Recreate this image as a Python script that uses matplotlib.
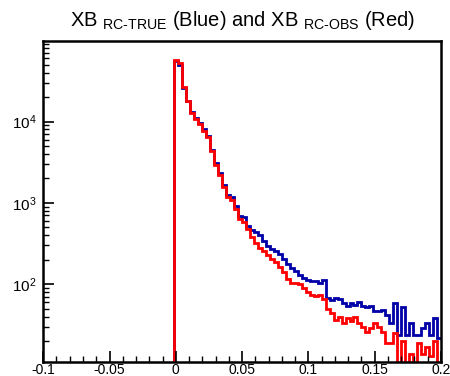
import numpy as np
import matplotlib
matplotlib.use("Agg")
import matplotlib.pyplot as plt
from matplotlib.ticker import LogLocator, MultipleLocator, NullFormatter

plt.rcParams['font.family'] = ['Liberation Sans', 'DejaVu Sans']
plt.rcParams['mathtext.fontset'] = 'custom'
plt.rcParams['mathtext.rm'] = 'Liberation Sans'
plt.rcParams['mathtext.it'] = 'Liberation Sans'
plt.rcParams['mathtext.bf'] = 'Liberation Sans:bold'

# histogram binning: 100 bins from -0.1 to 0.2
x_min, x_max, n_bins = -0.1, 0.2, 100
n_empty = 33  # bins below the threshold are empty

# XB RC-TRUE (blue) counts for the non-empty bins
true_counts = [56000, 50000, 26000, 18000, 13000, 11000, 9600, 8000, 6700, 4500,
               3100, 2300, 1680, 1250, 1180, 920, 695, 670, 522, 470,
               436, 398, 340, 295, 269, 254, 233, 202, 175, 160,
               144, 131, 119, 114, 108, 108, 103, 114, 68, 64,
               67, 65, 58, 54, 59, 56, 61, 54, 53, 54,
               47, 47, 48, 42, 33, 58, 24, 53, 24, 33,
               24, 24, 29, 33, 24, 38, 22]
# XB RC-OBS (red) counts for the non-empty bins
obs_counts = [58000, 53000, 26600, 18000, 12750, 10700, 9300, 7700, 6400, 4300,
              2900, 2180, 1570, 1180, 1070, 840, 630, 580, 475, 380,
              325, 282, 256, 226, 205, 186, 164, 140, 116, 104,
              104, 101, 90, 79, 74, 71, 74, 65, 50, 44,
              36, 40, 33, 38, 35, 40, 33, 30, 26, 29,
              33, 30, 26, 19, 19, 25, 0, 20, 0, 14,
              0, 19, 14, 17, 13, 20, 0]

edges = np.linspace(x_min, x_max, n_bins + 1)
blue = np.array([0] * n_empty + true_counts, dtype=float)
red = np.array([0] * n_empty + obs_counts, dtype=float)
floor = 1e-2
blue_p = np.where(blue > 0, blue, floor)
red_p = np.where(red > 0, red, floor)

fig = plt.figure(figsize=(4.5, 3.76), dpi=100)
ax = fig.add_axes([0.096, 0.037, 0.884, 0.854])

ax.stairs(blue_p, edges, color='#0000a8', lw=2.0, baseline=None)
ax.stairs(red_p, edges, color='#ff0000', lw=2.0, baseline=None)

ax.set_yscale('log')
ax.set_xlim(x_min, x_max)
ax.set_ylim(11, 9.8e4)

ax.xaxis.set_major_locator(MultipleLocator(0.05))
ax.xaxis.set_minor_locator(MultipleLocator(0.01))
ax.yaxis.set_major_locator(LogLocator(base=10))
ax.yaxis.set_minor_locator(LogLocator(base=10, subs=np.arange(2, 10)))
ax.yaxis.set_minor_formatter(NullFormatter())
ax.set_xticks([-0.1, -0.05, 0, 0.05, 0.1, 0.15, 0.2])
ax.set_xticklabels(['-0.1', '-0.05', '0', '0.05', '0.1', '0.15', '0.2'])

ax.tick_params(axis='both', which='major', direction='in', length=8, width=1.2,
               top=False, right=False)
ax.tick_params(axis='both', which='minor', direction='in', length=4, width=1.0,
               top=False, right=False)
ax.tick_params(axis='x', pad=0.5, labelsize=10)
ax.tick_params(axis='y', pad=5, labelsize=11)
for s in ax.spines.values():
    s.set_linewidth(1.8)

fig.text(0.54, 0.945,
         r'XB $_{\mathrm{RC\text{-}TRUE}}$ (Blue) and XB $_{\mathrm{RC\text{-}OBS}}$ (Red)',
         ha='center', va='center', fontsize=14.5)

fig.savefig('out.png', dpi=100)
